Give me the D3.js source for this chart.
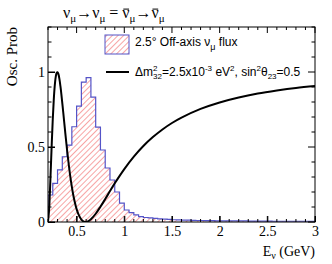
<!DOCTYPE html>
<html>
<head>
<meta charset="utf-8">
<script src="https://cdn.jsdelivr.net/npm/d3@7"></script>
<style>
  body { margin: 0; background: #fff; }
  svg { display: block; }
</style>
</head>
<body>
<svg width="332" height="264"></svg>
<script>
// flux histogram: 0.05 GeV bins starting at 0.2 GeV
let binStart = 0.2;
let binWidth = 0.05;
let fluxValues = [
    0.18, 0.258, 0.347, 0.435, 0.513, 0.635, 0.773, 0.933, 0.962, 0.833,
    0.633, 0.48, 0.36, 0.28, 0.20, 0.126, 0.08, 0.062, 0.047, 0.036,
    0.030, 0.027, 0.024, 0.021, 0.019, 0.017, 0.015, 0.014, 0.013, 0.012,
    0.011, 0.010, 0.010, 0.009, 0.009, 0.008, 0.008, 0.008, 0.007, 0.007,
    0.007, 0.007, 0.006, 0.006, 0.006, 0.006, 0.006, 0.005, 0.005, 0.005,
    0.005, 0.005, 0.005, 0.005, 0.005, 0.005
];

// survival probability curve
let probEnergy = [0.2, 0.21, 0.22, 0.23, 0.24, 0.25, 0.26, 0.27, 0.28, 0.29, 0.30,
    0.31, 0.32, 0.33, 0.34, 0.36, 0.38, 0.40, 0.42, 0.44, 0.46, 0.48, 0.50,
    0.52, 0.55, 0.575, 0.60, 0.625, 0.65, 0.70, 0.75, 0.80, 0.85, 0.90, 1.0,
    1.1, 1.2, 1.3, 1.4, 1.5, 1.6, 1.8, 2.0, 2.2, 2.4, 2.6, 2.8, 3.0];
let probValues = [0.002, 0.068, 0.201, 0.366, 0.534, 0.685, 0.809, 0.902, 0.962, 0.994, 0.999,
    0.984, 0.952, 0.907, 0.853, 0.730, 0.602, 0.480, 0.370, 0.276, 0.197, 0.135, 0.086,
    0.051, 0.016, 0.003, 0.000, 0.006, 0.018, 0.055, 0.102, 0.153, 0.206, 0.258, 0.353,
    0.436, 0.507, 0.566, 0.617, 0.660, 0.696, 0.754, 0.797, 0.830, 0.856, 0.876, 0.893, 0.906];

let xTicks = [0.5, 1, 1.5, 2, 2.5, 3];
let xTickLabels = ["0.5", "1", "1.5", "2", "2.5", "3"];
let yTicks = [0, 0.5, 1];
let yTickLabels = ["0", "0.5", "1"];

let svg = d3.select("svg");
let mLeft = 48, mRight = 315, mTop = 27, mBottom = 222;

let x = d3.scaleLinear().domain([0.2, 3]).range([mLeft, mRight]);
let y = d3.scaleLinear().domain([0, 1.3]).range([mBottom, mTop]);

let defs = svg.append("defs");
let hatch = defs.append("pattern")
    .attr("id", "hatch")
    .attr("patternUnits", "userSpaceOnUse")
    .attr("width", 4).attr("height", 4)
    .attr("patternTransform", "rotate(45)");
hatch.append("rect").attr("width", 4).attr("height", 4).attr("fill", "#fff");
hatch.append("line")
    .attr("x1", 0).attr("y1", 0).attr("x2", 0).attr("y2", 4)
    .attr("stroke", "#f25a5a").attr("stroke-width", 1.1);

defs.append("clipPath").attr("id", "frame")
    .append("rect")
    .attr("x", mLeft).attr("y", mTop - 1)
    .attr("width", mRight - mLeft).attr("height", mBottom - mTop + 1);

let plot = svg.append("g").attr("clip-path", "url(#frame)");

// histogram
let bins = fluxValues.map((v, i) => ({lo: binStart + i * binWidth, hi: binStart + (i + 1) * binWidth, v: v}));
let pts = [[x(bins[0].lo), y(0)]];
bins.forEach(b => {
    pts.push([x(b.lo), y(b.v)]);
    pts.push([x(b.hi), y(b.v)]);
});
pts.push([x(bins[bins.length - 1].hi), y(0)]);
let lineRaw = d3.line();
plot.append("path")
    .attr("d", lineRaw(pts) + "Z")
    .attr("fill", "url(#hatch)")
    .attr("stroke", "none");
plot.append("path")
    .attr("d", lineRaw(pts))
    .attr("fill", "none")
    .attr("stroke", "#5454c8")
    .attr("stroke-width", 1.2);

// curve
let curve = d3.line()
    .x((d, i) => x(probEnergy[i]))
    .y(d => y(d))
    .curve(d3.curveCatmullRom.alpha(0.5));
plot.append("path")
    .attr("d", curve(probValues))
    .attr("fill", "none")
    .attr("stroke", "#000")
    .attr("stroke-width", 2);

// axes
let serif = "'Liberation Serif', 'Times New Roman', serif";
let sans = "'Liberation Sans', Arial, Helvetica, sans-serif";

let xAxis = svg.append("g")
    .attr("transform", `translate(0,${mBottom})`)
    .call(d3.axisBottom(x).tickValues(xTicks).tickFormat((d, i) => xTickLabels[i]).tickSize(-6).tickPadding(4));
let yAxis = svg.append("g")
    .attr("transform", `translate(${mLeft},0)`)
    .call(d3.axisLeft(y).tickValues(yTicks).tickFormat((d, i) => yTickLabels[i]).tickSize(-7).tickPadding(3));
[xAxis, yAxis].forEach(a => {
    a.select(".domain").remove();
    a.selectAll("text").attr("font-family", serif).attr("font-size", 14).attr("fill", "#000");
    a.selectAll("line").attr("stroke", "#000");
});

// mirrored and minor ticks
let ticks = svg.append("g").attr("stroke", "#000").attr("stroke-width", 1);
d3.range(0.2, 3.001, 0.1).forEach(v => {
    let major = xTicks.some(t => Math.abs(t - v) < 1e-6);
    let len = major ? 6 : 3;
    ticks.append("line").attr("x1", x(v)).attr("x2", x(v)).attr("y1", mBottom).attr("y2", mBottom - len);
    ticks.append("line").attr("x1", x(v)).attr("x2", x(v)).attr("y1", mTop).attr("y2", mTop + len);
});
d3.range(0, 1.301, 0.1).forEach(v => {
    let major = yTicks.some(t => Math.abs(t - v) < 1e-6);
    let len = major ? 7 : 3.5;
    ticks.append("line").attr("x1", mLeft).attr("x2", mLeft + len).attr("y1", y(v)).attr("y2", y(v));
    ticks.append("line").attr("x1", mRight).attr("x2", mRight - len).attr("y1", y(v)).attr("y2", y(v));
});

svg.append("rect")
    .attr("x", mLeft).attr("y", mTop)
    .attr("width", mRight - mLeft).attr("height", mBottom - mTop)
    .attr("fill", "none").attr("stroke", "#000");

// axis titles
svg.append("text")
    .attr("transform", `translate(17,${mTop}) rotate(-90)`)
    .attr("text-anchor", "end")
    .attr("font-family", serif).attr("font-size", 15)
    .text("Osc. Prob");

let xt = svg.append("text")
    .attr("x", mRight).attr("y", 256)
    .attr("text-anchor", "end")
    .attr("font-family", serif).attr("font-size", 14);
xt.append("tspan").text("E");
xt.append("tspan").attr("dy", 3).attr("font-size", 10).text("ν");
xt.append("tspan").attr("dy", -3).text(" (GeV)");

// title with overbars on antineutrinos
function addParts(textSel, parts) {
    parts.forEach(p => {
        let t = textSel.append("tspan").text(p.t);
        if (p.sub) t.attr("dy", p.sub).attr("font-size", p.fs);
    });
}
let title = svg.append("text")
    .attr("x", 63).attr("y", 18)
    .attr("font-family", serif).attr("font-size", 16);
let titleParts = [
    {t: "ν"}, {t: "μ", sub: 4, fs: 11}, {t: "→", sub: -4, fs: 16},
    {t: "ν"}, {t: "μ", sub: 4, fs: 11}, {t: " = ", sub: -4, fs: 16},
    {t: "ν"}, {t: "μ", sub: 4, fs: 11}, {t: "→", sub: -4, fs: 16},
    {t: "ν"}, {t: "μ", sub: 4, fs: 11}
];
addParts(title, titleParts);
let node = title.node();
let full = node.textContent;
let barIdx = [];
let seen = 0;
for (let i = 0; i < full.length; i++) {
    if (full[i] === "ν") { seen++; if (seen >= 3) barIdx.push(i); }
}
barIdx.forEach(i => {
    let b = node.getExtentOfChar(i);
    svg.append("line")
        .attr("x1", b.x + 1).attr("x2", b.x + b.width - 0.5)
        .attr("y1", b.y + b.height * 0.3).attr("y2", b.y + b.height * 0.3)
        .attr("stroke", "#000").attr("stroke-width", 1);
});

// legend
svg.append("rect")
    .attr("x", 105).attr("y", 35).attr("width", 24).attr("height", 19)
    .attr("fill", "url(#hatch)").attr("stroke", "#5454c8").attr("stroke-width", 1);
let l1 = svg.append("text")
    .attr("x", 135).attr("y", 46)
    .attr("font-family", sans).attr("font-size", 12);
l1.append("tspan").text("2.5° Off-axis ν");
l1.append("tspan").attr("dy", 4).attr("font-size", 9).text("μ");
l1.append("tspan").attr("dy", -4).text(" flux");

svg.append("line")
    .attr("x1", 106).attr("x2", 129).attr("y1", 72).attr("y2", 72)
    .attr("stroke", "#000").attr("stroke-width", 2);
let l2 = svg.append("text")
    .attr("x", 135).attr("y", 76)
    .attr("font-family", sans).attr("font-size", 12);
l2.append("tspan").text("Δm");
l2.append("tspan").attr("dy", -5).attr("font-size", 8).text("2");
l2.append("tspan").attr("dy", 8).attr("dx", -4.5).attr("font-size", 8).text("32");
l2.append("tspan").attr("dy", -3).text("=2.5x10");
l2.append("tspan").attr("dy", -5).attr("font-size", 8).text("-3");
l2.append("tspan").attr("dy", 5).text(" eV");
l2.append("tspan").attr("dy", -5).attr("font-size", 8).text("2");
l2.append("tspan").attr("dy", 5).text(", sin");
l2.append("tspan").attr("dy", -5).attr("font-size", 8).text("2");
l2.append("tspan").attr("dy", 5).text("θ");
l2.append("tspan").attr("dy", 3).attr("font-size", 8).text("23");
l2.append("tspan").attr("dy", -3).text("=0.5");
</script>
</body>
</html>
